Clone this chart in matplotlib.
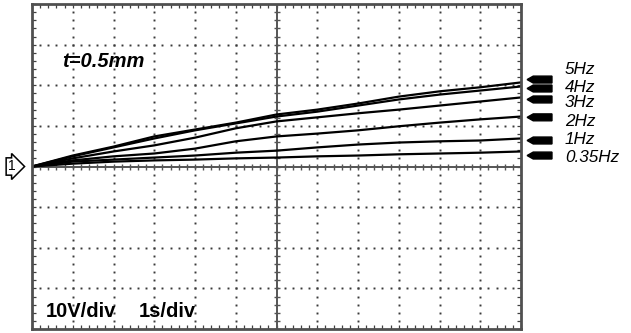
import numpy as np
import matplotlib
matplotlib.use("Agg")
import matplotlib.pyplot as plt
from matplotlib.ticker import MultipleLocator

# time axis (s), 1 s/div, 12 divisions
time_s = [0, 1, 2, 3, 4, 5, 6, 7, 8, 9, 10, 11, 12]
# voltages (V), 10 V/div
v_5hz = [0, 2.7, 4.9, 7.4, 9.1, 10.8, 12.8, 14.0, 15.5, 17.2, 18.5, 19.5, 20.7]
v_4hz = [0, 2.5, 4.7, 6.9, 8.9, 10.6, 12.3, 13.5, 15.0, 16.5, 17.7, 18.7, 19.7]
v_3hz = [0, 2.0, 3.7, 5.2, 7.1, 9.4, 11.1, 12.1, 13.1, 14.0, 15.0, 16.0, 17.0]
v_2hz = [0, 1.5, 2.5, 3.2, 4.4, 6.2, 7.4, 8.1, 8.9, 9.9, 10.8, 11.6, 12.3]
v_1hz = [0, 1.2, 1.7, 2.2, 2.7, 3.4, 3.9, 4.7, 5.4, 5.9, 6.2, 6.4, 6.9]
v_035hz = [0, 0.7, 1.2, 1.5, 1.7, 2.0, 2.2, 2.5, 2.7, 3.0, 3.2, 3.4, 3.7]

series = [v_5hz, v_4hz, v_3hz, v_2hz, v_1hz, v_035hz]
labels = ["5Hz", "4Hz", "3Hz", "2Hz", "1Hz", "0.35Hz"]
label_levels = [23.9, 19.5, 15.8, 11.1, 6.7, 2.2]
marker_levels = [21.4, 19.2, 16.5, 12.1, 6.4, 2.7]

FONT = "Liberation Sans"
grid_c = "#3a3a3a"

fig = plt.figure(figsize=(6.31, 3.33), dpi=100)
ax = fig.add_axes([32 / 631, 4 / 333, 489 / 631, 325 / 333])
ax.set_xlim(0, 12)
ax.set_ylim(-40, 40)

for s in ax.spines.values():
    s.set_color("#505050")
    s.set_linewidth(2)

ax.xaxis.set_major_locator(MultipleLocator(0.2))
ax.yaxis.set_major_locator(MultipleLocator(2))
ax.tick_params(which="both", direction="in", length=3, width=0.9, color="#404040",
               top=True, right=True, labelbottom=False, labelleft=False)

# dotted graticule
ydots = np.arange(-40, 40.01, 2)
xdots = np.arange(0, 12.01, 0.2)
for d in range(1, 12):
    if d == 6:
        continue
    ax.plot(np.full(len(ydots), d), ydots, ls="none", marker="s", ms=1.4,
            color=grid_c, mew=0)
for v in [-30, -20, -10, 10, 20, 30]:
    ax.plot(xdots, np.full(len(xdots), v), ls="none", marker="s", ms=1.4,
            color=grid_c, mew=0)

# center cross with ticks
ax.axhline(0, color="#555555", lw=1.4)
ax.axvline(6, color="#555555", lw=1.4)
ax.plot(xdots, np.zeros(len(xdots)), ls="none", marker="|", ms=5, mew=1.0, color="#555555")
ax.plot(np.full(len(ydots), 6), ydots, ls="none", marker="_", ms=5, mew=1.0, color="#555555")

# traces
for vals in series:
    ax.plot(time_s, vals, color="black", lw=1.6, solid_joinstyle="round")

# texts
ax.text(0.74, 25.9, "t=0.5mm", fontsize=14.5, fontweight="bold", style="italic",
        family=FONT, va="center", ha="left")
ax.text(0.34, -35.7, "10V/div", fontsize=14.5, fontweight="bold",
        family=FONT, va="center", ha="left")
ax.text(2.63, -35.7, "1s/div", fontsize=14.5, fontweight="bold",
        family=FONT, va="center", ha="left")

# right-side indicators and labels
h = 0.85
for lev in marker_levels:
    xs = [12.15, 12.30, 12.76, 12.76, 12.30]
    ys = [lev, lev + h, lev + h, lev - h, lev - h]
    ax.fill(xs, ys, color="black", clip_on=False)
for lab, lev in zip(labels, label_levels):
    ax.text(13.08, lev, lab, fontsize=12.3, style="italic", family=FONT,
            va="center", ha="left", clip_on=False)

# channel marker
ax.text(-0.5, 0, "1", fontsize=10, family=FONT, va="center", ha="center",
        bbox=dict(boxstyle="rarrow,pad=0.12", fc="white", ec="black", lw=1.1),
        clip_on=False)

fig.savefig("out.png", dpi=100)
